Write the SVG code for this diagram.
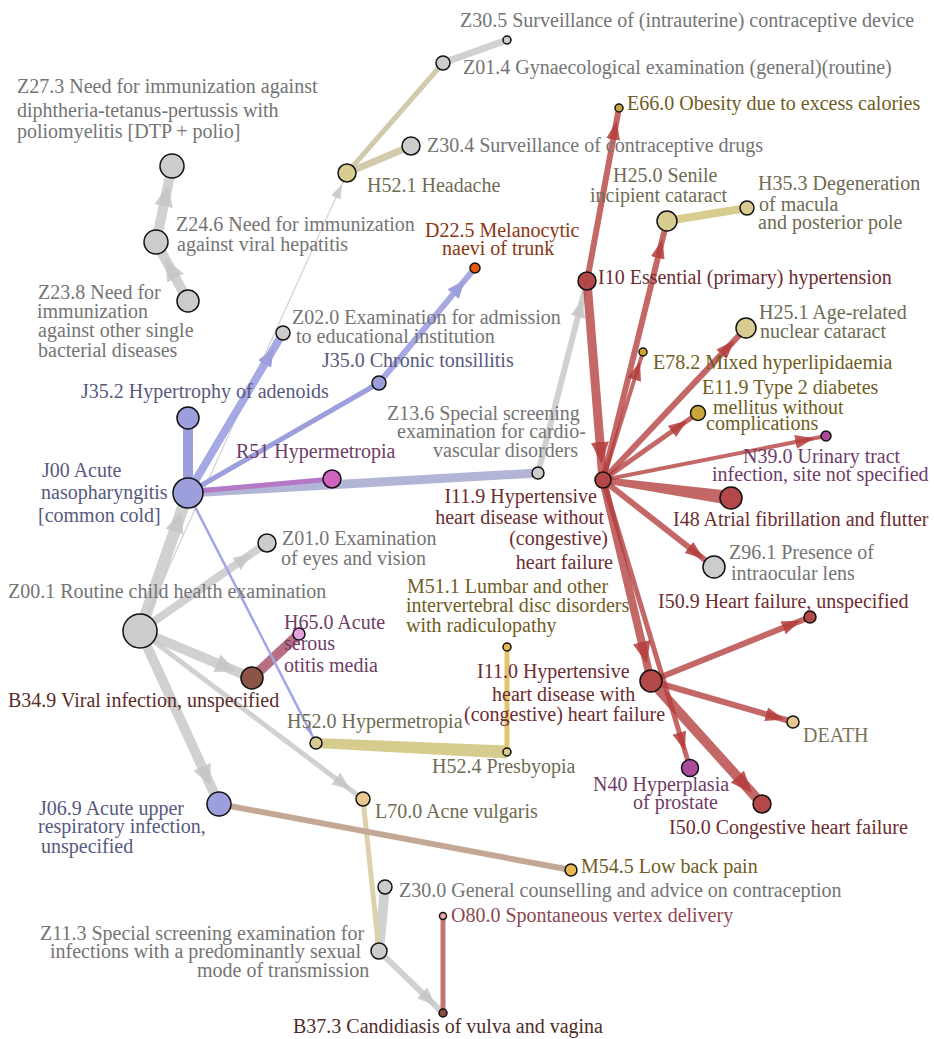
<svg xmlns="http://www.w3.org/2000/svg" width="934" height="1039" viewBox="0 0 934 1039">
<style>
  text { font-family: "Liberation Serif", "Times New Roman", serif; font-size: 20px; }
  .e { fill: none; stroke-linecap: butt; }
  .gr { stroke: #c6c6c6; stroke-opacity: .8; }
  .rd { stroke: #b43c3c; stroke-opacity: .78; }
  .n { stroke: #111; stroke-width: 1.5; }
  .f-gray { fill: #cccccc; } .f-lav { fill: #9c9fdc; } .f-red { fill: #b34848; }
  .f-tan { fill: #d8cc90; } .f-gold { fill: #c9a437; } .f-yel { fill: #e8b850; }
  .f-peach { fill: #e8c890; } .f-pink { fill: #e4a2dc; } .f-mag { fill: #a84c9a; }
  .f-r51 { fill: #d063bb; } .f-orange { fill: #e8580c; } .f-brown { fill: #8c5446; }
  .f-brown2 { fill: #8b4a42; } .f-opink { fill: #f2a4aa; }
  .lg { fill: #747474; } .ll { fill: #57597e; } .lr { fill: #6c2c30; }
  .lt { fill: #6e6b52; } .lo { fill: #6f5d22; } .lm { fill: #6e3c66; }
  .ld { fill: #8c3512; } .lb { fill: #5c2c28; } .lp { fill: #8c4850; }
  .lk { fill: #4e2c26; } .ldeath { fill: #7a7258; }
</style>
<defs>
  <marker id="ar1" viewBox="0 0 10 10" refX="10" refY="5" markerUnits="userSpaceOnUse" markerWidth="19" markerHeight="14" orient="auto" preserveAspectRatio="none"><path d="M0,0L10,5L0,10z" fill="#b43c3c" fill-opacity=".85"/></marker>
  <marker id="ar2" viewBox="0 0 10 10" refX="10" refY="5" markerUnits="userSpaceOnUse" markerWidth="22" markerHeight="18" orient="auto" preserveAspectRatio="none"><path d="M0,0L10,5L0,10z" fill="#b43c3c" fill-opacity=".85"/></marker>
  <marker id="ag0" viewBox="0 0 10 10" refX="10" refY="5" markerUnits="userSpaceOnUse" markerWidth="15" markerHeight="10" orient="auto" preserveAspectRatio="none"><path d="M0,0L10,5L0,10z" fill="#c6c6c6" fill-opacity=".85"/></marker>
  <marker id="ag1" viewBox="0 0 10 10" refX="10" refY="5" markerUnits="userSpaceOnUse" markerWidth="18" markerHeight="15" orient="auto" preserveAspectRatio="none"><path d="M0,0L10,5L0,10z" fill="#c6c6c6" fill-opacity=".85"/></marker>
  <marker id="ag2" viewBox="0 0 10 10" refX="10" refY="5" markerUnits="userSpaceOnUse" markerWidth="21" markerHeight="19" orient="auto" preserveAspectRatio="none"><path d="M0,0L10,5L0,10z" fill="#c6c6c6" fill-opacity=".85"/></marker>
  <marker id="al1" viewBox="0 0 10 10" refX="10" refY="5" markerUnits="userSpaceOnUse" markerWidth="18" markerHeight="15" orient="auto" preserveAspectRatio="none"><path d="M0,0L10,5L0,10z" fill="#9c9fdc"/></marker>
  <marker id="al0" viewBox="0 0 10 10" refX="10" refY="5" markerUnits="userSpaceOnUse" markerWidth="10" markerHeight="6" orient="auto" preserveAspectRatio="none"><path d="M0,0L10,5L0,10z" fill="#9c9fdc"/></marker>
</defs>

<g id="edges">
  <!-- grey transitions -->
  <path class="e gr" stroke-width="7" d="M443,63L507,40"/>
  <path class="e gr" stroke-width="10" marker-mid="url(#ag2)" d="M156,242L167.9,185.6L172,166"/>
  <path class="e gr" stroke-width="10" marker-mid="url(#ag2)" d="M188,301L165.5,259.6L156,242"/>
  <path class="e gr" stroke-width="1.2" marker-mid="url(#ag0)" d="M140,631L342.1,183.9L347,173"/>
  <path class="e gr" stroke-width="12" marker-mid="url(#ag2)" d="M140,631L181.4,511.9L188,493"/>
  <path class="e gr" stroke-width="8" marker-mid="url(#ag1)" d="M140,631L251.4,553.8L267,543"/>
  <path class="e gr" stroke-width="10" marker-mid="url(#ag2)" d="M140,631L236.3,671.4L252,678"/>
  <path class="e gr" stroke-width="10" marker-mid="url(#ag2)" d="M140,631L210.7,785.8L219,804"/>
  <path class="e gr" stroke-width="5" marker-mid="url(#ag1)" d="M140,631L350.2,789.4L363,799"/>
  <path class="e gr" stroke-width="6" marker-mid="url(#ag1)" d="M538,473L582.3,299.4L587,281"/>
  <path class="e gr" stroke-width="10" d="M385,887L379,951"/>
  <path class="e gr" stroke-width="6" marker-mid="url(#ag1)" d="M379,951L435.1,1005.3L443,1013"/>

  <!-- tan / mixed transitions -->
  <path class="e" stroke="#d2cbab" stroke-width="5" d="M347,173L443,63"/>
  <path class="e" stroke="#d2cbab" stroke-width="7" d="M347,173L411,146"/>
  <path class="e" stroke="#d8cd8f" stroke-width="8" d="M667,221L747,208"/>
  <path class="e" stroke="#ddd0aa" stroke-width="5" d="M363,799L379,951"/>
  <polygon fill="#d6cc8e" points="316.2,738 507.3,745.5 506.7,758.5 315.8,748"/>
  <path class="e" stroke="#e2c46e" stroke-width="5" d="M507,647L507,752"/>
  <path class="e" stroke="#c3a995" stroke-width="6" d="M219,804L571,870"/>
  <path class="e" stroke="#b96f82" stroke-width="10" d="M252,678L299,634"/>
  <path class="e" stroke="#c27575" stroke-width="5" d="M443,916L443,1013"/>

  <!-- lavender transitions -->
  <path class="e" stroke="#9c9fdc" stroke-width="10" d="M188,493L188,418"/>
  <path class="e" stroke="#a6a9e4" stroke-width="8" marker-mid="url(#al1)" d="M188,493L273.8,348.5L283,333"/>
  <path class="e" stroke="#9c9fdc" stroke-width="5" d="M188,493L379,383"/>
  <path class="e" stroke="#a6a9e4" stroke-width="6" marker-mid="url(#al1)" d="M379,383L464.7,280.3L475,268"/>
  <path class="e" stroke="#b3b5d6" stroke-width="9" d="M188,493L538,473"/>
  <path class="e" stroke="#b578c6" stroke-width="5" d="M188,492L332,479"/>
  <path class="e" stroke="#a2a5e6" stroke-width="2.5" marker-mid="url(#al0)" d="M188,493L312.4,735.9L316,743"/>

  <!-- red transitions -->
  <path class="e rd" stroke-width="6" marker-mid="url(#ar1)" d="M587,281L616.6,120.8L619,108"/>
  <path class="e rd" stroke-width="9" marker-mid="url(#ar2)" d="M587,281L601.7,464L603,480"/>
  <path class="e rd" stroke-width="6" marker-mid="url(#ar1)" d="M603,480L662.4,239.4L667,221"/>
  <path class="e rd" stroke-width="4" marker-mid="url(#ar1)" d="M603,480L640,361.5L643,352"/>
  <path class="e rd" stroke-width="6" marker-mid="url(#ar1)" d="M603,480L734.4,340.4L746,328"/>
  <path class="e rd" stroke-width="5" marker-mid="url(#ar1)" d="M603,480L687.4,420.5L698,413"/>
  <path class="e rd" stroke-width="4" marker-mid="url(#ar1)" d="M603,480L814.2,438.3L826,436"/>
  <polygon fill="#b43c3c" fill-opacity=".78" points="603.4,477 732,491.1 730,504.9 602.6,483"/>
  <path class="e rd" stroke-width="6" marker-mid="url(#ar1)" d="M603,480L703.8,559L714,567"/>
  <path class="e rd" stroke-width="8" marker-mid="url(#ar2)" d="M603,480L646.8,663.5L651,681"/>
  <path class="e rd" stroke-width="5" marker-mid="url(#ar1)" d="M603,480L684.8,750.8L690,768"/>
  <path class="e rd" stroke-width="6" marker-mid="url(#ar1)" d="M651,681L800.7,620.7L810,617"/>
  <path class="e rd" stroke-width="6" marker-mid="url(#ar1)" d="M651,681L784.4,719.5L793,722"/>
  <path class="e rd" stroke-width="10" marker-mid="url(#ar2)" d="M651,681L752,792.9L762,804"/>
</g>

<g id="n-Z30_5"><circle class="n f-gray" cx="507" cy="40" r="4"/><text class="lg" x="460" y="27">Z30.5 Surveillance of (intrauterine) contraceptive device</text></g>
<g id="n-Z01_4"><circle class="n f-gray" cx="443" cy="63" r="7"/><text class="lg" x="463" y="74">Z01.4 Gynaecological examination (general)(routine)</text></g>
<g id="n-Z30_4"><circle class="n f-gray" cx="411" cy="146" r="9"/><text class="lg" x="427" y="152">Z30.4 Surveillance of contraceptive drugs</text></g>
<g id="n-H52_1"><circle class="n f-tan" cx="347" cy="173" r="9"/><text class="lt" x="367" y="192">H52.1 Headache</text></g>
<g id="n-Z27_3"><circle class="n f-gray" cx="172" cy="166" r="12"/><text class="lg"><tspan x="17" y="93">Z27.3 Need for immunization against</tspan><tspan x="17" y="117">diphtheria-tetanus-pertussis with</tspan><tspan x="17" y="138">poliomyelitis [DTP + polio]</tspan></text></g>
<g id="n-Z24_6"><circle class="n f-gray" cx="156" cy="242" r="12"/><text class="lg"><tspan x="176" y="231">Z24.6 Need for immunization</tspan><tspan x="177" y="251">against viral hepatitis</tspan></text></g>
<g id="n-Z23_8"><circle class="n f-gray" cx="188" cy="301" r="11"/><text class="lg"><tspan x="38" y="299">Z23.8 Need for</tspan><tspan x="37" y="318">immunization</tspan><tspan x="38" y="337">against other single</tspan><tspan x="38" y="357">bacterial diseases</tspan></text></g>
<g id="n-D22_5"><circle class="n f-orange" cx="475" cy="268" r="5"/><text class="ld"><tspan x="425" y="237">D22.5 Melanocytic</tspan><tspan x="442" y="255">naevi of trunk</tspan></text></g>
<g id="n-Z02_0"><circle class="n f-gray" cx="283" cy="333" r="7"/><text class="lg"><tspan x="292" y="324">Z02.0 Examination for admission</tspan><tspan x="296" y="343">to educational institution</tspan></text></g>
<g id="n-J35_0"><circle class="n f-lav" cx="379" cy="383" r="7"/><text class="ll" x="322" y="367">J35.0 Chronic tonsillitis</text></g>
<g id="n-J35_2"><circle class="n f-lav" cx="188" cy="418" r="11"/><text class="ll" x="81" y="398">J35.2 Hypertrophy of adenoids</text></g>
<g id="n-R51"><circle class="n f-r51" cx="332" cy="479" r="9"/><text class="lm" x="236" y="458">R51 Hypermetropia</text></g>
<g id="n-J00"><circle class="n f-lav" cx="188" cy="493" r="15"/><text class="ll"><tspan x="42" y="477">J00 Acute</tspan><tspan x="41" y="499">nasopharyngitis</tspan><tspan x="38" y="522">[common cold]</tspan></text></g>
<g id="n-Z13_6"><circle class="n f-gray" cx="538" cy="473" r="6"/><text class="lg"><tspan x="387" y="420">Z13.6 Special screening</tspan><tspan x="397" y="438">examination for cardio-</tspan><tspan x="433" y="457">vascular disorders</tspan></text></g>
<g id="n-I11_9"><circle class="n f-red" cx="603" cy="480" r="8"/><text class="lr" text-anchor="end"><tspan x="597" y="503">I11.9 Hypertensive</tspan><tspan x="604" y="524">heart disease without</tspan><tspan x="608" y="545">(congestive)</tspan><tspan x="613" y="569">heart failure</tspan></text></g>
<g id="n-Z01_0"><circle class="n f-gray" cx="267" cy="543" r="9"/><text class="lg"><tspan x="282" y="545">Z01.0 Examination</tspan><tspan x="281" y="565">of eyes and vision</tspan></text></g>
<g id="n-Z00_1"><circle class="n f-gray" cx="140" cy="631" r="17"/><text class="lg" x="8" y="598">Z00.1 Routine child health examination</text></g>
<g id="n-H65_0"><circle class="n f-pink" cx="299" cy="634" r="6"/><text class="lm"><tspan x="284" y="629">H65.0 Acute</tspan><tspan x="284" y="650">serous</tspan><tspan x="284" y="672">otitis media</tspan></text></g>
<g id="n-B34_9"><circle class="n f-brown" cx="252" cy="678" r="11"/><text class="lb" x="8" y="707">B34.9 Viral infection, unspecified</text></g>
<g id="n-M51_1"><circle class="n f-yel" cx="507" cy="647" r="4"/><text class="lo"><tspan x="407" y="593">M51.1 Lumbar and other</tspan><tspan x="406" y="612">intervertebral disc disorders</tspan><tspan x="406" y="632">with radiculopathy</tspan></text></g>
<g id="n-I11_0"><circle class="n f-red" cx="651" cy="681" r="11"/><text class="lr"><tspan x="477" y="678">I11.0 Hypertensive</tspan><tspan x="492" y="701">heart disease with</tspan><tspan x="464" y="721">(congestive) heart failure</tspan></text></g>
<g id="n-H52_0"><circle class="n f-tan" cx="316" cy="743" r="6"/><text class="lt" x="287" y="728">H52.0 Hypermetropia</text></g>
<g id="n-H52_4"><circle class="n f-tan" cx="507" cy="752" r="4"/><text class="lt" x="432" y="773">H52.4 Presbyopia</text></g>
<g id="n-J06_9"><circle class="n f-lav" cx="219" cy="804" r="12"/><text class="ll"><tspan x="39" y="815">J06.9 Acute upper</tspan><tspan x="38" y="833">respiratory infection,</tspan><tspan x="41" y="853">unspecified</tspan></text></g>
<g id="n-L70_0"><circle class="n f-peach" cx="363" cy="799" r="7"/><text class="lt" x="375" y="818">L70.0 Acne vulgaris</text></g>
<g id="n-M54_5"><circle class="n f-yel" cx="571" cy="870" r="6"/><text class="lo" x="581" y="873">M54.5 Low back pain</text></g>
<g id="n-Z30_0"><circle class="n f-gray" cx="385" cy="887" r="7"/><text class="lg" x="399" y="897">Z30.0 General counselling and advice on contraception</text></g>
<g id="n-O80_0"><circle class="n f-opink" cx="443" cy="916" r="3.5"/><text class="lp" x="451" y="922">O80.0 Spontaneous vertex delivery</text></g>
<g id="n-Z11_3"><circle class="n f-gray" cx="379" cy="951" r="8"/><text class="lg"><tspan x="40" y="940">Z11.3 Special screening examination for</tspan><tspan x="50" y="958">infections with a predominantly sexual</tspan><tspan x="197" y="977">mode of transmission</tspan></text></g>
<g id="n-B37_3"><circle class="n f-brown2" cx="443" cy="1013" r="4"/><text class="lk" x="293" y="1033">B37.3 Candidiasis of vulva and vagina</text></g>
<g id="n-E66_0"><circle class="n f-gold" cx="619" cy="108" r="4"/><text class="lo" x="627" y="110">E66.0 Obesity due to excess calories</text></g>
<g id="n-H25_0"><circle class="n f-tan" cx="667" cy="221" r="10"/><text class="lt"><tspan x="613" y="182">H25.0 Senile</tspan><tspan x="590" y="202">incipient cataract</tspan></text></g>
<g id="n-H35_3"><circle class="n f-tan" cx="747" cy="208" r="7"/><text class="lt"><tspan x="758" y="190">H35.3 Degeneration</tspan><tspan x="759" y="211">of macula</tspan><tspan x="758" y="229">and posterior pole</tspan></text></g>
<g id="n-I10"><circle class="n f-red" cx="587" cy="281" r="9"/><text class="lr" x="598" y="284">I10 Essential (primary) hypertension</text></g>
<g id="n-H25_1"><circle class="n f-tan" cx="746" cy="328" r="10"/><text class="lt"><tspan x="759" y="319">H25.1 Age-related</tspan><tspan x="760" y="338">nuclear cataract</tspan></text></g>
<g id="n-E78_2"><circle class="n f-gold" cx="643" cy="352" r="4"/><text class="lo" x="653" y="369">E78.2 Mixed hyperlipidaemia</text></g>
<g id="n-E11_9"><circle class="n f-gold" cx="698" cy="413" r="7.5"/><text class="lo"><tspan x="702" y="394">E11.9 Type 2 diabetes</tspan><tspan x="713" y="414">mellitus without</tspan><tspan x="706" y="430">complications</tspan></text></g>
<g id="n-N39_0"><circle class="n f-mag" cx="826" cy="436" r="5"/><text class="lm"><tspan x="743" y="463">N39.0 Urinary tract</tspan><tspan x="712" y="481">infection, site not specified</tspan></text></g>
<g id="n-I48"><circle class="n f-red" cx="731" cy="498" r="11"/><text class="lr" x="673" y="526">I48 Atrial fibrillation and flutter</text></g>
<g id="n-Z96_1"><circle class="n f-gray" cx="714" cy="567" r="11"/><text class="lg"><tspan x="729" y="559">Z96.1 Presence of</tspan><tspan x="731" y="580">intraocular lens</tspan></text></g>
<g id="n-I50_9"><circle class="n f-red" cx="810" cy="617" r="6"/><text class="lr" x="658" y="608">I50.9 Heart failure, unspecified</text></g>
<g id="n-DEATH"><circle class="n f-peach" cx="793" cy="722" r="6"/><text class="ldeath" x="803" y="742">DEATH</text></g>
<g id="n-N40"><circle class="n f-mag" cx="690" cy="768" r="8.5"/><text class="lm"><tspan x="593" y="791">N40 Hyperplasia</tspan><tspan x="633" y="809">of prostate</tspan></text></g>
<g id="n-I50_0"><circle class="n f-red" cx="762" cy="804" r="9"/><text class="lr" x="669" y="834">I50.0 Congestive heart failure</text></g>
</svg>
